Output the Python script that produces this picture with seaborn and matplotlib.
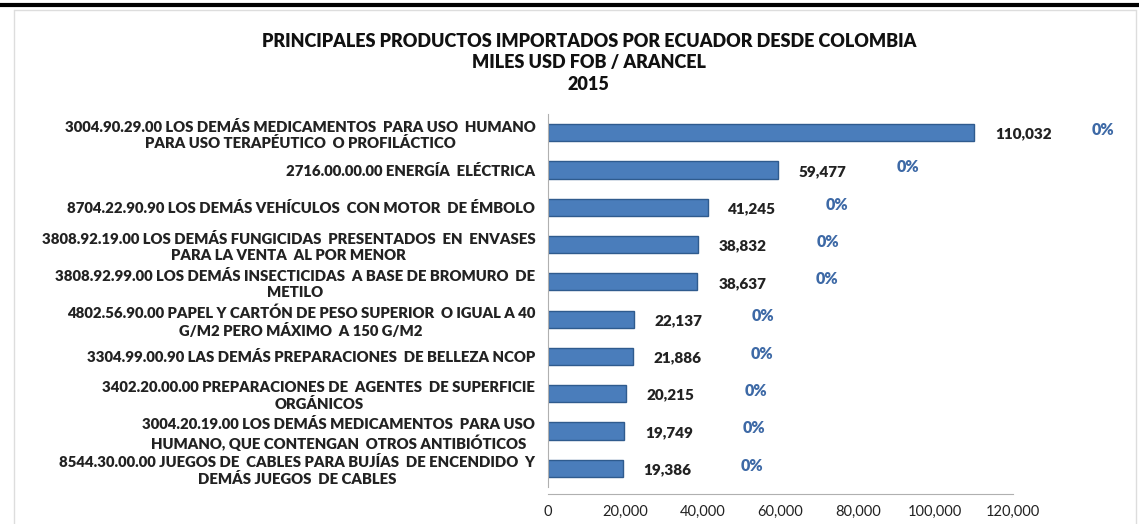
import matplotlib
matplotlib.use('Agg')
import matplotlib.pyplot as plt
import seaborn as sns
from matplotlib.lines import Line2D

# datos
productos = [
    '3004.90.29.00 LOS DEMÁS MEDICAMENTOS  PARA USO  HUMANO\nPARA USO TERAPÉUTICO  O PROFILÁCTICO',
    '2716.00.00.00 ENERGÍA  ELÉCTRICA',
    '8704.22.90.90 LOS DEMÁS VEHÍCULOS  CON MOTOR  DE ÉMBOLO',
    '3808.92.19.00 LOS DEMÁS FUNGICIDAS  PRESENTADOS  EN  ENVASES\nPARA LA VENTA  AL POR MENOR',
    '3808.92.99.00 LOS DEMÁS INSECTICIDAS  A BASE DE BROMURO  DE\nMETILO',
    '4802.56.90.00 PAPEL Y CARTÓN DE PESO SUPERIOR  O IGUAL A 40\nG/M2 PERO MÁXIMO  A 150 G/M2',
    '3304.99.00.90 LAS DEMÁS PREPARACIONES  DE BELLEZA NCOP',
    '3402.20.00.00 PREPARACIONES DE  AGENTES  DE SUPERFICIE\nORGÁNICOS',
    '3004.20.19.00 LOS DEMÁS MEDICAMENTOS  PARA USO\nHUMANO, QUE CONTENGAN  OTROS ANTIBIÓTICOS',
    '8544.30.00.00 JUEGOS DE  CABLES PARA BUJÍAS  DE ENCENDIDO  Y\nDEMÁS JUEGOS  DE CABLES',
]
valores = [110032, 59477, 41245, 38832, 38637, 22137, 21886, 20215, 19749, 19386]
porcentajes = ['0%'] * 10
x_ticks = [0, 20000, 40000, 60000, 80000, 100000, 120000]

sns.set_style('white')
plt.rcParams['font.family'] = ['Lato', 'DejaVu Sans']

fig = plt.figure(figsize=(11.39, 5.24), dpi=100)
ax = fig.add_axes([0.481, 0.0706, 0.408, 0.7116])

sns.barplot(x=valores, y=productos, orient='h', color='#4a7dbb', saturation=1,
            width=0.46, edgecolor='#2f5b8e', linewidth=1.0, ax=ax)

ax.set_xlim(0, 120000)
ax.set_xticks(x_ticks, labels=[f'{t:,}' for t in x_ticks], fontweight='heavy')
ax.set_yticks(range(len(productos)), labels=productos, fontweight='heavy',
              multialignment='center', linespacing=1.22)
ax.tick_params(axis='x', length=0, pad=8, labelsize=10.5, labelcolor='#222222')
ax.tick_params(axis='y', length=0, pad=9, labelsize=10.7, labelcolor='#222222')

for s in ['top', 'right']:
    ax.spines[s].set_visible(False)
ax.spines['left'].set_color('#b0b0b0')
ax.spines['bottom'].set_color('#b0b0b0')
ax.spines['bottom'].set_position(('outward', 5))
ax.set_xlabel('')
ax.set_ylabel('')

# etiquetas de valor y porcentaje
for i, (v, p) in enumerate(zip(valores, porcentajes)):
    ax.annotate(f'{v:,}', (v, i), xytext=(15, -1), textcoords='offset points',
                ha='left', va='center', fontsize=11, fontweight='heavy', color='#222222')
    ax.annotate(p, (v, i), xytext=(85, 2), textcoords='offset points',
                ha='left', va='center', fontsize=11.5, fontweight='heavy', color='#3d69a6')

# titulo
fig.text(0.517, 0.880, 'PRINCIPALES PRODUCTOS IMPORTADOS POR ECUADOR DESDE COLOMBIA\nMILES USD FOB / ARANCEL\n2015',
         ha='center', va='center', fontsize=13, fontweight='heavy', color='#111111',
         linespacing=1.3)

# marco
fig.add_artist(Line2D([0, 1], [0.99, 0.99], color='black', lw=3, transform=fig.transFigure))
fig.add_artist(Line2D([0.012, 0.012], [0.0, 0.98], color='#dddddd', lw=1, transform=fig.transFigure))
fig.add_artist(Line2D([0.012, 0.997], [0.98, 0.98], color='#dddddd', lw=1, transform=fig.transFigure))
fig.add_artist(Line2D([0.997, 0.997], [0.0, 0.98], color='#dddddd', lw=1, transform=fig.transFigure))

plt.savefig('out.png', dpi=100)
